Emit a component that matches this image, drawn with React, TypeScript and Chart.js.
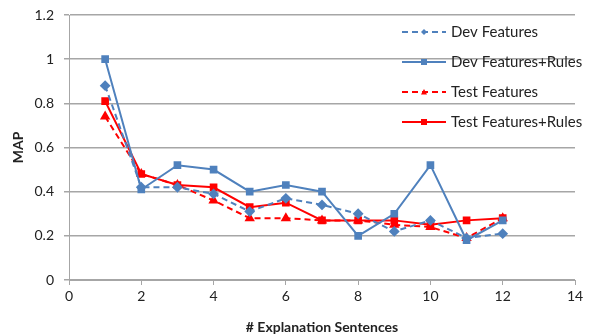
import React, { useEffect, useRef } from "react";
import { Chart, registerables } from "chart.js";

Chart.register(...registerables);

const sentences = [1, 2, 3, 4, 5, 6, 7, 8, 9, 10, 11, 12];
const devFeatures = [0.88, 0.42, 0.42, 0.39, 0.31, 0.37, 0.34, 0.3, 0.22, 0.27, 0.19, 0.21];
const devFeaturesRules = [1.0, 0.41, 0.52, 0.5, 0.4, 0.43, 0.4, 0.2, 0.3, 0.52, 0.18, 0.27];
const testFeatures = [0.74, 0.48, 0.43, 0.36, 0.28, 0.28, 0.27, 0.27, 0.25, 0.24, 0.19, 0.28];
const testFeaturesRules = [0.81, 0.48, 0.43, 0.42, 0.33, 0.35, 0.27, 0.27, 0.27, 0.25, 0.27, 0.28];
const seriesNames = ["Dev Features", "Dev Features+Rules", "Test Features", "Test Features+Rules"];

const BLUE = "#4f81bd";
const RED = "#ff0000";
const FONT = "Lato, 'Open Sans', sans-serif";

const toPts = (ys: number[]) => sentences.map((x, i) => ({ x, y: ys[i] }));

const legendPlugin = {
  id: "customLegend",
  afterDraw(chart: any) {
    const ctx = chart.ctx;
    const ds = chart.data.datasets;
    const rowsY = [32, 62, 92, 122];
    ctx.save();
    ds.forEach((d: any, i: number) => {
      const y = rowsY[i];
      ctx.strokeStyle = d.borderColor;
      ctx.lineWidth = 2;
      ctx.setLineDash(d.borderDash || []);
      ctx.beginPath();
      ctx.moveTo(402, y);
      ctx.lineTo(446, y);
      ctx.stroke();
      ctx.setLineDash([]);
      ctx.fillStyle = d.borderColor;
      const cx = 424;
      const r = 3;
      ctx.beginPath();
      if (d.pointStyle === "rectRot") {
        ctx.moveTo(cx, y - r); ctx.lineTo(cx + r, y); ctx.lineTo(cx, y + r); ctx.lineTo(cx - r, y);
      } else if (d.pointStyle === "triangle") {
        ctx.moveTo(cx, y - r); ctx.lineTo(cx + r, y + r * 0.8); ctx.lineTo(cx - r, y + r * 0.8);
      } else {
        ctx.rect(cx - r, y - r, r * 2, r * 2);
      }
      ctx.closePath();
      ctx.fill();
      ctx.fillStyle = "#222";
      ctx.font = `15px ${FONT}`;
      ctx.textBaseline = "middle";
      ctx.textAlign = "left";
      ctx.fillText(d.label, 451, y);
    });
    ctx.restore();
  },
};

export default function App() {
  const ref = useRef<HTMLCanvasElement>(null);
  useEffect(() => {
    document.body.style.margin = "0";
    const chart = new Chart(ref.current!, {
      type: "line",
      data: {
        datasets: [
          {
            label: seriesNames[0],
            data: toPts(devFeatures),
            borderColor: BLUE,
            backgroundColor: BLUE,
            borderWidth: 2,
            borderDash: [6, 4],
            pointStyle: "rectRot",
            pointRadius: 4,
          },
          {
            label: seriesNames[1],
            data: toPts(devFeaturesRules),
            borderColor: BLUE,
            backgroundColor: BLUE,
            borderWidth: 2,
            pointStyle: "rect",
            pointRadius: 4,
          },
          {
            label: seriesNames[2],
            data: toPts(testFeatures),
            borderColor: RED,
            backgroundColor: RED,
            borderWidth: 2,
            borderDash: [6, 4],
            pointStyle: "triangle",
            pointRadius: 4,
          },
          {
            label: seriesNames[3],
            data: toPts(testFeaturesRules),
            borderColor: RED,
            backgroundColor: RED,
            borderWidth: 2,
            pointStyle: "rect",
            pointRadius: 4,
          },
        ] as any,
      },
      options: {
        animation: false,
        responsive: false,
        layout: { padding: { top: 15, right: 14, left: 0, bottom: 0 } },
        plugins: { legend: { display: false }, tooltip: { enabled: false } },
        scales: {
          x: {
            type: "linear",
            min: 0,
            max: 14,
            ticks: { stepSize: 2, color: "#222", font: { family: FONT, size: 14 }, padding: 3 },
            grid: { drawOnChartArea: false, drawTicks: true, tickLength: 5, color: "#a6a6a6" },
            border: { color: "#a6a6a6" },
            title: {
              display: true,
              text: "# Explanation Sentences",
              color: "#222",
              font: { family: FONT, size: 14, weight: "bold" },
              padding: { top: 6, bottom: 0 },
            },
            afterFit: (s: any) => { s.height = 56; },
          },
          y: {
            min: 0,
            max: 1.2,
            ticks: { stepSize: 0.2, color: "#222", font: { family: FONT, size: 14 }, padding: 10,
              callback: (v: any) => String(Math.round(Number(v) * 10) / 10) },
            grid: { color: "#a6a6a6", tickLength: 5, lineWidth: 1.5 },
            border: { color: "#a6a6a6" },
            title: {
              display: true,
              text: "MAP",
              color: "#222",
              font: { family: FONT, size: 14, weight: "bold" },
              padding: { top: 10, bottom: 4 },
            },
            afterFit: (s: any) => { s.width = 69; s.paddingTop = 0; s.paddingBottom = 0; },
          },
        },
      } as any,
      plugins: [legendPlugin],
    });
    return () => chart.destroy();
  }, []);
  return (
    <div style={{ width: 589, height: 336, background: "#fff" }}>
      <canvas ref={ref} width={589} height={336} />
    </div>
  );
}
